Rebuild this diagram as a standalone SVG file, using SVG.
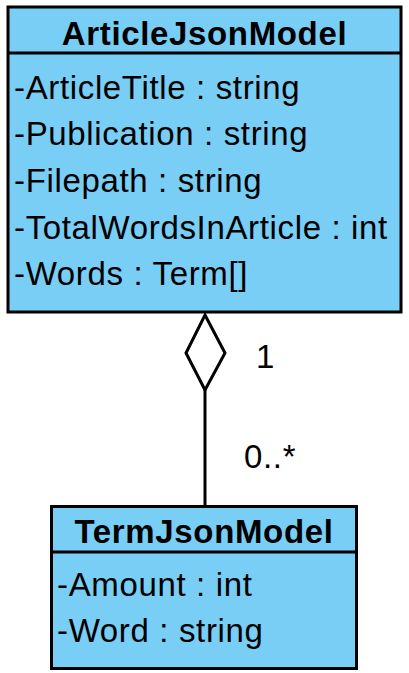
<svg xmlns="http://www.w3.org/2000/svg" width="409" height="673" viewBox="0 0 409 673">
<style>
.box{fill:#79CEF5;stroke:#000;stroke-width:3}
.div{stroke:#000;stroke-width:3}
.t{font-family:"Liberation Sans",Arial,sans-serif;font-size:33px;fill:#000;letter-spacing:0.65px}
.b{font-weight:bold;text-anchor:middle}
.conn{fill:none;stroke:#000;stroke-width:3}
</style>
<rect width="409" height="673" fill="#fff"/>
<g id="ArticleJsonModel">
<rect class="box" x="8" y="7" width="393" height="305"/>
<line class="div" x1="8" y1="53" x2="401" y2="53"/>
<text class="t b" x="204.5" y="45">ArticleJsonModel</text>
<text class="t" x="14" y="98.5">-ArticleTitle : string</text>
<text class="t" x="14" y="145">-Publication : string</text>
<text class="t" x="14" y="192">-Filepath : string</text>
<text class="t" x="14" y="238.5">-TotalWordsInArticle : int</text>
<text class="t" x="14" y="285">-Words : Term[]</text>
</g>
<g id="TermJsonModel">
<rect class="box" x="51.5" y="506.5" width="305" height="162"/>
<line class="div" x1="51.5" y1="552" x2="356.5" y2="552"/>
<text class="t b" x="204" y="543">TermJsonModel</text>
<text class="t" x="57" y="596">-Amount : int</text>
<text class="t" x="57" y="642">-Word : string</text>
</g>
<g id="connectors">
<line class="conn" x1="205" y1="390" x2="205" y2="505"/>
<polygon class="conn" points="205,315 225,353 205,390 186,353"/>
<text class="t" x="256" y="368">1</text>
<text class="t" x="244" y="468">0..*</text>
</g>
</svg>
